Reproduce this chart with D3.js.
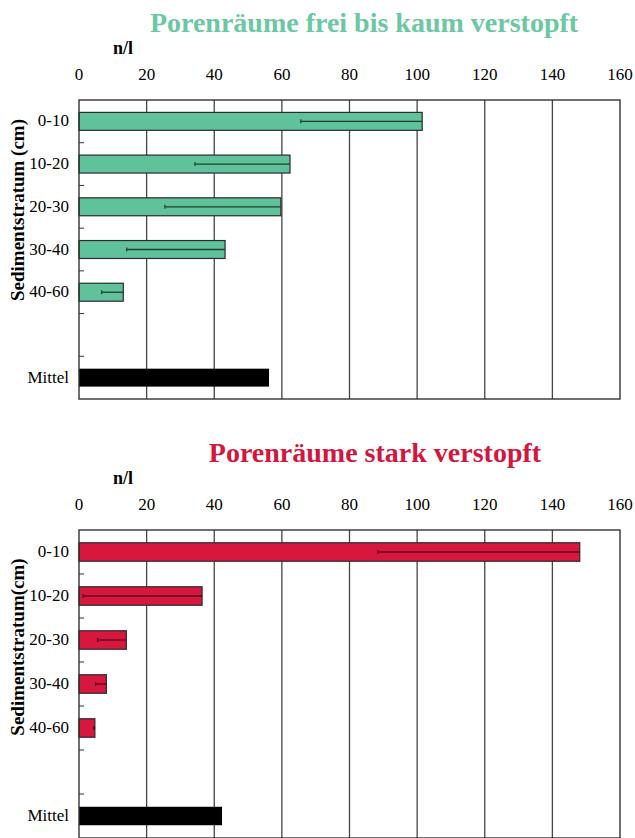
<!DOCTYPE html>
<html>
<head>
<meta charset="utf-8">
<title>Porenräume</title>
<script src="https://cdn.jsdelivr.net/npm/d3@7"></script>
<style>
  body { margin: 0; background: #fff; }
</style>
</head>
<body>
<svg id="chart" width="635" height="838"></svg>
<script>
// categories (the empty slot keeps the gap above "Mittel")
var strata = ["0-10", "10-20", "20-30", "30-40", "40-60"];
var slots = strata.concat(["gap", "Mittel"]);
var xTicks = [0, 20, 40, 60, 80, 100, 120, 140, 160];

// Porenräume frei bis kaum verstopft
var freiMean = [101.5, 62.4, 59.7, 43.2, 13.1];
var freiLow = [65.6, 34.3, 25.4, 14.1, 6.7];
var freiMittel = 56.2;

// Porenräume stark verstopft
var starkMean = [148.1, 36.4, 14.0, 8.1, 4.7];
var starkLow = [88.4, 1.2, 5.5, 4.9, 4.4];
var starkMittel = 42.3;

var svg = d3.select("#chart");
var x = d3.scaleLinear().domain([0, 160]).range([79, 620]);
var serif = "'Liberation Serif', 'Times New Roman', serif";

function panel(opt) {
  var g = svg.append("g");
  var y = d3.scaleBand().domain(slots).range([opt.top, opt.bottom]).paddingInner(0.58).paddingOuter(0.29);
  var step = y.step();

  g.append("text").style("font-family", serif)
    .attr("x", opt.titleX).attr("y", opt.top - 68)
    .attr("text-anchor", "middle")
    .attr("font-size", 28).attr("font-weight", "bold")
    .attr("fill", opt.titleColor)
    .text(opt.title);

  g.append("text").style("font-family", serif)
    .attr("x", 113).attr("y", opt.top - 46)
    .attr("font-size", 18).attr("font-weight", "bold")
    .text("n/l");

  // tick labels on top
  g.selectAll(".xt").data(xTicks).enter().append("text")
    .style("font-family", serif)
    .attr("x", function(d) { return x(d); })
    .attr("y", opt.top - 20)
    .attr("text-anchor", "middle")
    .attr("font-size", 17)
    .text(function(d) { return d; });

  // vertical grid
  g.selectAll(".grid").data(xTicks.slice(1, -1)).enter().append("line")
    .attr("x1", function(d) { return x(d); }).attr("x2", function(d) { return x(d); })
    .attr("y1", opt.top).attr("y2", opt.bottom)
    .attr("stroke", "#4a4444").attr("stroke-width", 1.3);

  // small inward ticks at slot boundaries
  var bounds = slots.slice(1).map(function(s) { return y(s) - (step - y.bandwidth()) / 2; });
  g.selectAll(".yt").data(bounds).enter().append("line")
    .attr("x1", x(0)).attr("x2", x(0) + 5)
    .attr("y1", function(d) { return d; }).attr("y2", function(d) { return d; })
    .attr("stroke", "#333").attr("stroke-width", 1);

  var rows = strata.map(function(s, i) { return { key: s, v: opt.mean[i], lo: opt.low[i] }; });

  g.selectAll(".bar").data(rows).enter().append("rect")
    .attr("x", x(0))
    .attr("y", function(d) { return y(d.key); })
    .attr("width", function(d) { return x(d.v) - x(0); })
    .attr("height", y.bandwidth())
    .attr("fill", opt.color)
    .attr("stroke", "#2b2b2b").attr("stroke-width", 1.2);

  // one-sided error bars, drawn inside the bar
  g.selectAll(".err").data(rows).enter().append("line")
    .attr("x1", function(d) { return x(d.lo); }).attr("x2", function(d) { return x(d.v); })
    .attr("y1", function(d) { return y(d.key) + y.bandwidth() / 2; })
    .attr("y2", function(d) { return y(d.key) + y.bandwidth() / 2; })
    .attr("stroke", opt.errColor).attr("stroke-width", 1.3);

  g.selectAll(".cap").data(rows).enter().append("line")
    .attr("x1", function(d) { return x(d.lo); }).attr("x2", function(d) { return x(d.lo); })
    .attr("y1", function(d) { return y(d.key) + y.bandwidth() / 2 - 2; })
    .attr("y2", function(d) { return y(d.key) + y.bandwidth() / 2 + 2; })
    .attr("stroke", opt.errColor).attr("stroke-width", 1.2);

  g.append("rect")
    .attr("x", x(0)).attr("y", y("Mittel"))
    .attr("width", x(opt.mittel) - x(0)).attr("height", y.bandwidth())
    .attr("fill", "#000");

  // frame
  g.append("rect")
    .attr("x", x(0)).attr("y", opt.top)
    .attr("width", x(160) - x(0)).attr("height", opt.bottom - opt.top)
    .attr("fill", "none").attr("stroke", "#333").attr("stroke-width", 1.4);

  // category labels
  g.selectAll(".cl").data(strata.concat(["Mittel"])).enter().append("text")
    .style("font-family", serif)
    .attr("x", 69)
    .attr("y", function(d) { return y(d) + y.bandwidth() / 2 + 5; })
    .attr("text-anchor", "end")
    .attr("font-size", 17)
    .text(function(d) { return d; });

  g.append("text").style("font-family", serif)
    .attr("transform", "translate(24," + opt.labelY + ") rotate(-90)")
    .attr("text-anchor", "middle")
    .attr("font-size", 19).attr("font-weight", "bold")
    .text(opt.yLabel);
}

panel({
  top: 100, bottom: 399,
  title: "Porenräume frei bis kaum verstopft", titleX: 364, titleColor: "#6cc7a4",
  color: "#5fc29b", errColor: "#1f3f30",
  mean: freiMean, low: freiLow, mittel: freiMittel,
  yLabel: "Sedimentstratum (cm)", labelY: 210
});

panel({
  top: 530, bottom: 838,
  title: "Porenräume stark verstopft", titleX: 375, titleColor: "#d3163d",
  color: "#d8173f", errColor: "#5a0a1a",
  mean: starkMean, low: starkLow, mittel: starkMittel,
  yLabel: "Sedimentstratum(cm)", labelY: 647
});
</script>
</body>
</html>
